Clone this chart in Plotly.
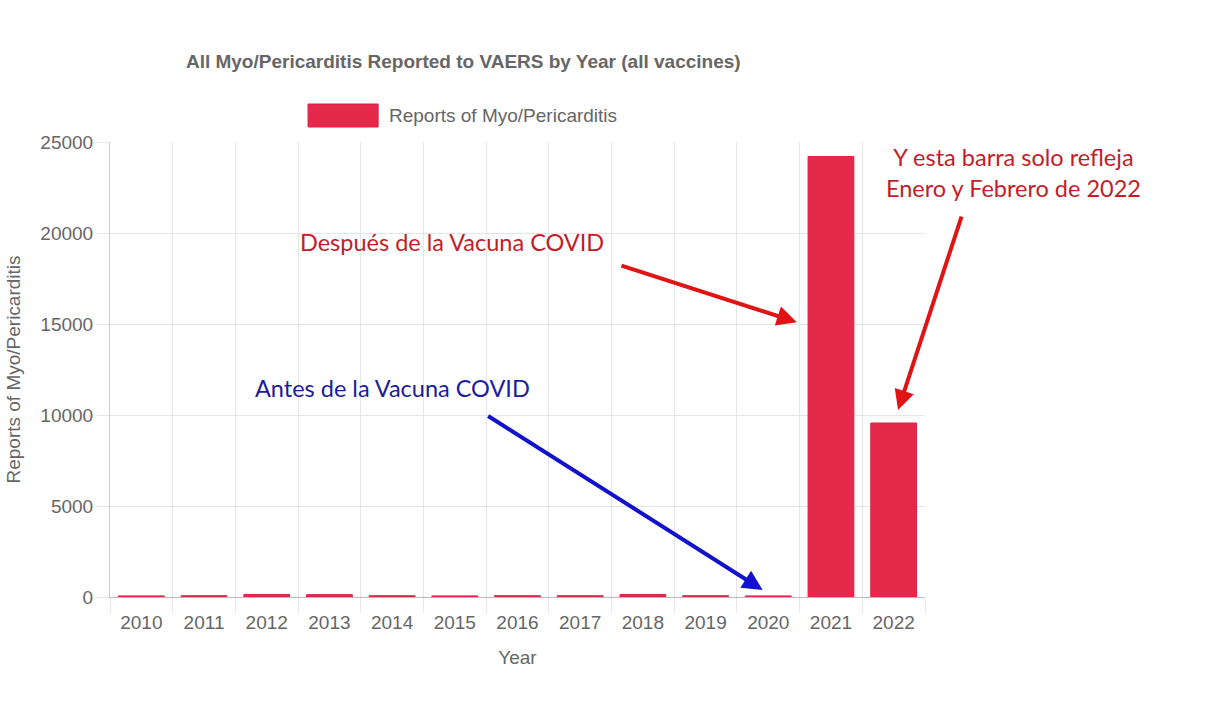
import plotly.graph_objects as go

years = ["2010", "2011", "2012", "2013", "2014", "2015", "2016", "2017", "2018", "2019", "2020", "2021", "2022"]
reports = [60, 70, 140, 130, 70, 60, 70, 70, 140, 70, 60, 24200, 9560]

title_text = "All Myo/Pericarditis Reported to VAERS by Year (all vaccines)"
series_name = "Reports of Myo/Pericarditis"

bar_color = "#e5294b"
gray = "#666666"

fig = go.Figure()
fig.add_trace(go.Bar(
    x=years, y=reports, name=series_name,
    marker=dict(color=bar_color, line=dict(color="#d92345", width=1)),
    showlegend=False,
))

font_fam = "Liberation Sans, Arial, sans-serif"
ann_font = "Lato, Open Sans, sans-serif"
ann_size = 23.5

annotations = [
    dict(text="Después de la Vacuna COVID", xref="paper", yref="paper",
         x=0.4196, y=0.780, xanchor="center", yanchor="middle", showarrow=False,
         font=dict(family=ann_font, size=ann_size, color="#c41c2a")),
    dict(text="Antes de la Vacuna COVID", xref="paper", yref="paper",
         x=0.347, y=0.459, xanchor="center", yanchor="middle", showarrow=False,
         font=dict(family=ann_font, size=ann_size, color="#1c1c9c")),
    dict(text="Y esta barra solo refleja<br>Enero y Febrero de 2022", xref="paper", yref="paper",
         x=1.109, y=0.934, xanchor="center", yanchor="middle", showarrow=False, align="center",
         font=dict(family=ann_font, size=ann_size, color="#c41c2a")),
    # legend text
    dict(text=series_name, xref="paper", yref="paper", x=0.340, y=1.059,
         xanchor="left", yanchor="middle", showarrow=False,
         font=dict(family=font_fam, size=19, color=gray)),
    # arrows
    dict(x=10.457, y=15100, xref="x", yref="y", ax=-177, ay=-57, showarrow=True,
         arrowhead=2, arrowsize=1, arrowwidth=4, arrowcolor="#e01414", text=""),
    dict(x=9.91, y=385, xref="x", yref="y", ax=-276, ay=-175, showarrow=True,
         arrowhead=2, arrowsize=1, arrowwidth=4, arrowcolor="#1212cc", text=""),
    dict(x=12.07, y=10270, xref="x", yref="y", ax=64, ay=-195, showarrow=True,
         arrowhead=2, arrowsize=1, arrowwidth=4, arrowcolor="#e01414", text=""),
]

shapes = [
    dict(type="rect", xref="paper", yref="paper", x0=0.243, x1=0.329, y0=1.033, y1=1.0835,
         fillcolor=bar_color, line=dict(color="#d92345", width=1)),
]

fig.update_layout(
    width=1216, height=718,
    margin=dict(l=110, r=291, t=142, b=121),
    paper_bgcolor="white", plot_bgcolor="white",
    title=dict(text="<b>" + title_text + "</b>", x=0.381, xanchor="center", y=0.915, yanchor="middle",
               font=dict(family=font_fam, size=19, color=gray)),
    showlegend=False,
    bargap=0.27,
    annotations=annotations,
    shapes=shapes,
    font=dict(family=font_fam, color=gray),
)

fig.update_xaxes(
    type="category", range=[-0.5, len(years) - 0.5], tickson="boundaries",
    showgrid=True, gridcolor="#e6e6e6",
    ticks="outside", ticklen=15, tickcolor="#e6e6e6", ticklabelstandoff=8,
    showline=True, linecolor="#bbbbbb",
    tickfont=dict(family=font_fam, size=19, color=gray),
    title=dict(text="Year", font=dict(family=font_fam, size=19, color=gray), standoff=18),
)
fig.update_yaxes(
    range=[0, 25000], dtick=5000, tickformat="d", showgrid=True, gridcolor="#e6e6e6",
    ticks="outside", ticklen=12, tickcolor="#e6e6e6",
    showline=True, linecolor="#cccccc", zeroline=False,
    tickfont=dict(family=font_fam, size=19, color=gray),
    title=dict(text="Reports of Myo/Pericarditis", font=dict(family=font_fam, size=19, color=gray), standoff=14),
)

fig.write_html("out.html")
